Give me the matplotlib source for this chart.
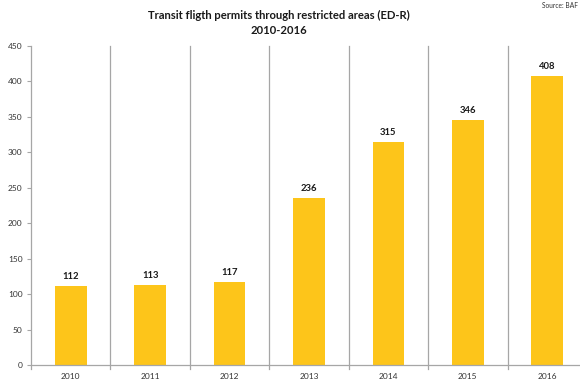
import matplotlib
matplotlib.use('Agg')
import numpy as np
import matplotlib.pyplot as plt

years = ['2010', '2011', '2012', '2013', '2014', '2015', '2016']
permits = [112, 113, 117, 236, 315, 346, 408]
yticks = [0, 50, 100, 150, 200, 250, 300, 350, 400, 450]

plt.rcParams['font.family'] = ['Lato', 'DejaVu Sans']

fig = plt.figure(figsize=(5.8, 3.82), dpi=100)
ax = fig.add_axes([31/580, 1 - 365/382, 556/580, 319/382])

x = np.arange(len(years))
ax.bar(x, permits, width=0.4, color='#FDC51A', zorder=2)

for a, b in zip(x, permits):
    ax.text(a, b + 7, str(b), ha='center', va='bottom', fontsize=6.8,
            fontweight='bold', color='#1a1a1a')

# category separators, running a little below the baseline
grey = '#a6a6a6'
for s in x[:-1] + 0.5:
    ax.plot([s, s], [-6, 450], color=grey, lw=0.9, clip_on=False, zorder=1)

ax.set_xlim(-0.5, 6.5)
ax.set_ylim(0, 450)
ax.set_yticks(yticks)
ax.set_xticks(x)
ax.set_xticklabels(years)

for side in ['top', 'right']:
    ax.spines[side].set_visible(False)
ax.spines['left'].set_color(grey)
ax.spines['bottom'].set_color(grey)
ax.spines['left'].set_linewidth(0.9)
ax.spines['bottom'].set_linewidth(0.9)
ax.spines['left'].set_bounds(-6, 450)
ax.tick_params(axis='y', length=3, width=0.8, color=grey, labelsize=6,
               labelcolor='#333333', pad=3)
ax.tick_params(axis='x', length=0, labelsize=6, labelcolor='#333333', pad=6)

fig.text(279/580, 1 - 15/382, 'Transit fligth permits through restricted areas (ED-R)',
         ha='center', va='center', fontsize=8.1, fontweight='bold', color='#1a1a1a')
fig.text(279/580, 1 - 30/382, '2010-2016', ha='center', va='center',
         fontsize=8.1, fontweight='bold', color='#1a1a1a')
fig.text(578/580, 1 - 6/382, 'Source: BAF', ha='right', va='center',
         fontsize=4.8, color='#333333')

fig.savefig('out.png', dpi=100)
